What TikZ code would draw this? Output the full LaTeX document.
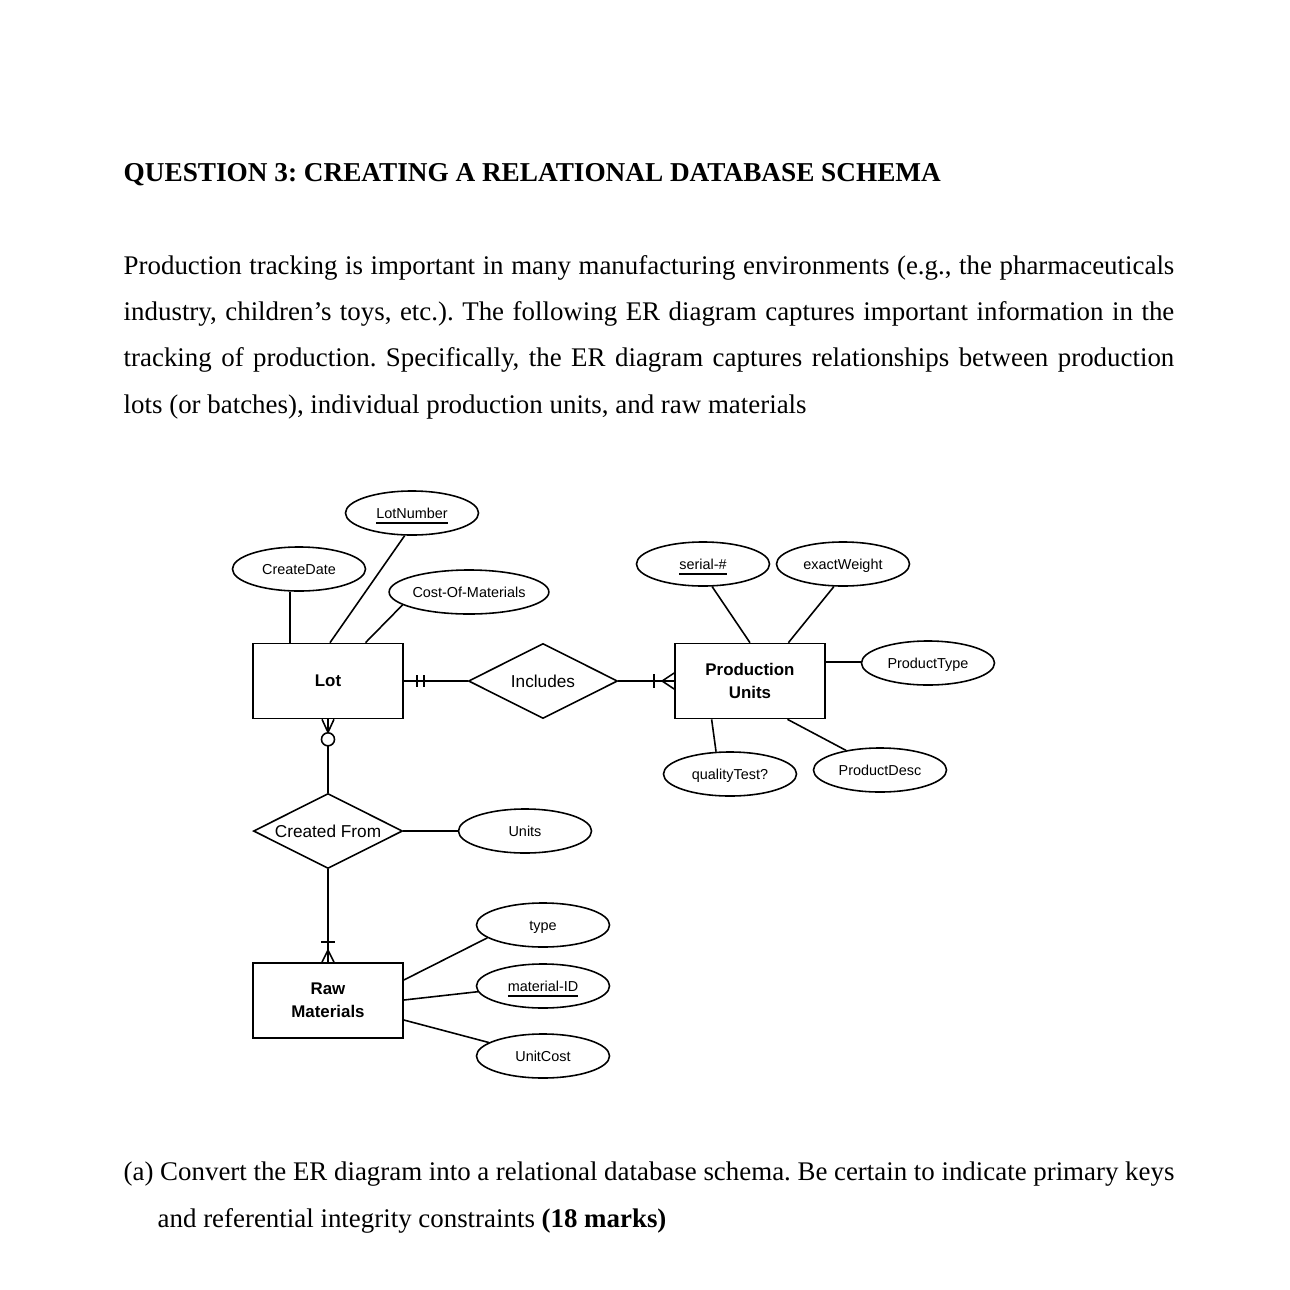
\documentclass[tikz,border=0pt]{standalone}
\usepackage{fontspec}
\setmainfont{Liberation Serif}
\newfontfamily\arial{Liberation Sans}
\usetikzlibrary{shapes.geometric,calc}
\frenchspacing
\begin{document}
\begin{tikzpicture}[x=0.01cm,y=-0.01cm,
  attr/.style={draw,ellipse,line width=0.45pt,inner sep=0pt,minimum width=1.33cm,minimum height=0.44cm,text height=2.9pt,text depth=0pt,font=\arial\fontsize{4.1}{5}\selectfont},
  ent/.style={draw,rectangle,line width=0.45pt,inner sep=0pt,minimum width=1.5cm,minimum height=0.75cm,align=center,font=\arial\bfseries\fontsize{4.8}{6.6}\selectfont},
  rel/.style={draw,diamond,aspect=2,line width=0.45pt,inner sep=0pt,minimum width=1.49cm,minimum height=0.75cm,font=\arial\fontsize{4.9}{6}\selectfont},
  conn/.style={line width=0.45pt},
  bodytext/.style={anchor=base west,inner sep=0pt,font=\fontsize{7.65}{9}\selectfont}]
\useasboundingbox[fill=white] (0,0) rectangle (1290,1290);
% heading and text
\node[anchor=base west,inner sep=0pt,font=\bfseries\fontsize{7.75}{9}\selectfont] (title) at (123,181) {QUESTION 3: CREATING A RELATIONAL DATABASE SCHEMA};
\node[bodytext] (p1) at (123,274) {\makebox[10.5cm][s]{Production tracking is important in many manufacturing environments (e.g., the pharmaceuticals}};
\node[bodytext] (p2) at (123,320) {\makebox[10.5cm][s]{industry, children’s toys, etc.). The following ER diagram captures important information in the}};
\node[bodytext] (p3) at (123,366) {\makebox[10.5cm][s]{tracking of production. Specifically, the ER diagram captures relationships between production}};
\node[bodytext] (p4) at (123,413) {lots (or batches), individual production units, and raw materials};
\node[bodytext] (q1) at (123,1180) {\makebox[10.5cm][s]{(a) Convert the ER diagram into a relational database schema. Be certain to indicate primary keys}};
\node[bodytext] (q2) at (157,1227) {and referential integrity constraints \textbf{(18 marks)}};
% entities
\node[ent] (lot) at (328,681) {Lot};
\node[ent] (pu) at (750,681) {Production\\Units};
\node[ent] (raw) at (328,1000.5) {Raw\\Materials};
% relationships
\node[rel] (inc) at (543,681) {Includes};
\node[rel] (cf) at (328,831) {Created From};
% attributes
\node[attr] (lotnum) at (412,513) {\underline{LotNumber}};
\node[attr] (cdate) at (299,569) {CreateDate};
\node[attr] (com) at (469,592) {Cost-Of-Materials};
\node[attr] (serial) at (703,564) {\underline{serial-\#}};
\node[attr] (weight) at (843,564) {exactWeight};
\node[attr] (ptype) at (928,663) {ProductType};
\node[attr] (qtest) at (730,774) {qualityTest?};
\node[attr] (pdesc) at (880,770) {ProductDesc};
\node[attr] (units) at (525,831) {Units};
\node[attr] (type) at (543,925) {type};
\node[attr] (matid) at (543,986) {\underline{material-ID}};
\node[attr] (ucost) at (543,1056) {UnitCost};
% attribute lines
\draw[conn] (cdate.south -| 290,0) -- (lot.north -| 290,0);
\draw[conn] (lotnum.252) -- ($(lot.north west)!0.513!(lot.north east)$);
\draw[conn] (com.191) -- ($(lot.north west)!0.747!(lot.north east)$);
\draw[conn] (serial.292) -- ($(pu.north west)!0.5!(pu.north east)$);
\draw[conn] (weight.248) -- ($(pu.north west)!0.753!(pu.north east)$);
\draw[conn] (pu.east |- 0,662) -- (ptype.west |- 0,662);
\draw[conn] ($(pu.south west)!0.247!(pu.south east)$) -- (qtest.122);
\draw[conn] ($(pu.south west)!0.747!(pu.south east)$) -- (pdesc.150);
\draw[conn] (cf.east) -- (units.west);
\draw[conn] (raw.east |- 0,980) -- (type.193);
\draw[conn] (raw.east |- 0,1000) -- (matid.185);
\draw[conn] (raw.east |- 0,1020) -- (ucost.166);
% relationship lines with cardinalities
\draw[conn] (lot.east) -- (inc.west);
\draw[conn] (lot.east) ++(13,-6) -- ++(0,12);
\draw[conn] (lot.east) ++(20,-6) -- ++(0,12);
\draw[conn] (inc.east) -- (pu.west);
\draw[conn] (pu.west) ++(-20,-7) -- ++(0,14);
\draw[conn] (pu.west) ++(0,-8) -- ++(-12,8) -- ++(12,8);
\draw[conn] (lot.south) ++(-6,0) -- ++(6,13) -- ++(6,-13);
\draw[conn] (lot.south) -- ++(0,13);
\draw[conn,fill=white] ($(lot.south)+(0,20)$) circle[radius=0.065cm];
\draw[conn] ($(lot.south)+(0,26.5)$) -- (cf.north);
\draw[conn] (cf.south) -- (raw.north);
\draw[conn] (raw.north) ++(-7,-20) -- ++(14,0);
\draw[conn] (raw.north) ++(-6,0) -- ++(6,-12) -- ++(6,12);
\end{tikzpicture}
\end{document}
